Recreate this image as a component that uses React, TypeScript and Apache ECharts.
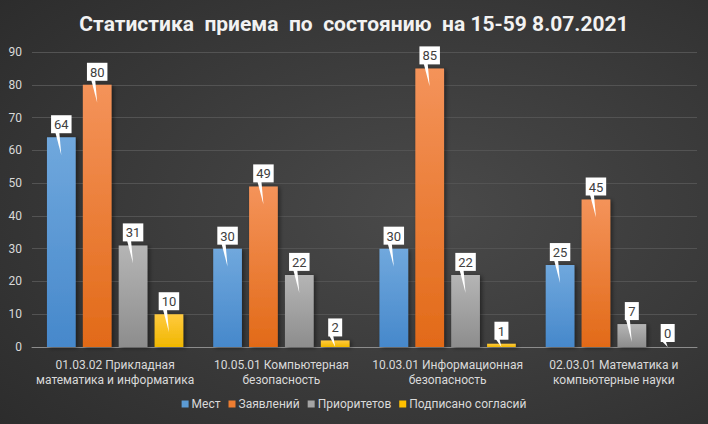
import React, { useEffect, useRef } from "react";
import * as echarts from "echarts";

const categories = [
  "01.03.02 Прикладная\nматематика и информатика",
  "10.05.01 Компьютерная\nбезопасность",
  "10.03.01 Информационная\nбезопасность",
  "02.03.01 Математика и\nкомпьютерные науки",
];
const seriesNames = ["Мест", "Заявлений", "Приоритетов", "Подписано согласий"];
const mest = [64, 30, 30, 25];
const zayavleniy = [80, 49, 85, 45];
const prioritetov = [31, 22, 22, 7];
const soglasiy = [10, 2, 1, 0];
const yTicks = [0, 10, 20, 30, 40, 50, 60, 70, 80, 90];

const FONT = "Roboto, 'Noto Sans', sans-serif";
const CAT_GAP = 0.18;
const BAR_GAP = 0.25;

const gradients = [
  ["#70a8dd", "#4688cb"],
  ["#f4935a", "#e26a18"],
  ["#b5b5b5", "#8d8d8d"],
  ["#ffca3f", "#f0b700"],
];
const legendColors = ["#5b9bd5", "#ed7d31", "#a5a5a5", "#ffc000"];

export default function App() {
  const ref = useRef<HTMLDivElement>(null);
  useEffect(() => {
    document.body.style.margin = "0";
    const chart = echarts.init(ref.current!, undefined, { renderer: "svg" });
    const all = [mest, zayavleniy, prioritetov, soglasiy];
    const n = all.length;

    const barSeries = all.map((vals, si) => ({
      type: "bar",
      name: seriesNames[si],
      data: vals,
      barCategoryGap: (CAT_GAP * 100).toFixed(0) + "%",
      barGap: (BAR_GAP * 100).toFixed(0) + "%",
      itemStyle: {
        color: {
          type: "linear",
          x: 0,
          y: 0,
          x2: 0,
          y2: 1,
          colorStops: [
            { offset: 0, color: gradients[si][0] },
            { offset: 1, color: gradients[si][1] },
          ],
        },
        shadowColor: "rgba(0,0,0,0.45)",
        shadowBlur: 4,
        shadowOffsetX: 2,
        shadowOffsetY: 1,
      },
      z: 2,
    }));

    const labelSeries = all.map((vals, si) => ({
      type: "custom",
      name: "lbl" + si,
      data: vals.map((v, i) => [i, v]),
      encode: { x: 0, y: 1 },
      z: 5,
      silent: true,
      renderItem: (params: any, api: any) => {
        const ci = api.value(0);
        const v = api.value(1);
        const pt = api.coord([ci, v]);
        const zero = api.coord([ci, 0]);
        const bandW = api.size([1, 0])[0];
        const usable = bandW * (1 - CAT_GAP);
        const bw = usable / (n + (n - 1) * BAR_GAP);
        const cx = pt[0] - usable / 2 + si * bw * (1 + BAR_GAP) + bw / 2;
        const ty = pt[1];
        const txt = String(v);
        const w = 6.5 * txt.length + 7.5;
        const h = 18;
        const boxBottom = Math.min(ty - 4, zero[1] - 5);
        const boxTop = boxBottom - h;
        const tipY = Math.min(ty + 18, zero[1]);
        return {
          type: "group",
          children: [
            {
              type: "polygon",
              shape: {
                points: [
                  [cx - 6, boxBottom - 1],
                  [cx - 2, boxBottom - 1],
                  [cx, tipY],
                ],
              },
              style: { fill: "#ffffff" },
            },
            {
              type: "rect",
              shape: { x: cx - w / 2, y: boxTop, width: w, height: h },
              style: { fill: "#ffffff" },
            },
            {
              type: "text",
              x: cx,
              y: boxTop + h / 2 + 0.5,
              style: {
                text: txt,
                fill: "#404040",
                font: "13px " + FONT,
                align: "center",
                verticalAlign: "middle",
              },
            },
          ],
        };
      },
    }));

    chart.setOption({
      animation: false,
      backgroundColor: {
        type: "radial",
        x: 0.6,
        y: 0.5,
        r: 1.0,
        colorStops: [
          { offset: 0, color: "#4a4a4a" },
          { offset: 1, color: "#242424" },
        ],
      },
      title: {
        text: "Статистика  приема  по  состоянию  на 15-59 8.07.2021",
        left: "center",
        top: 8,
        textStyle: {
          color: "#f2f2f2",
          fontSize: 21,
          fontWeight: "bold",
          fontFamily: FONT,
        },
      },
      legend: {
        data: seriesNames.map((nm, i) => ({ name: nm, itemStyle: { color: legendColors[i] } })),
        bottom: 9,
        left: "center",
        icon: "rect",
        itemWidth: 7,
        itemHeight: 7,
        itemGap: 8,
        textStyle: { color: "#d9d9d9", fontSize: 12, fontFamily: FONT, padding: [0, 0, 0, -2] },
      },
      grid: { left: 32, right: 11, top: 52, bottom: 77, containLabel: false },
      xAxis: {
        type: "category",
        data: categories,
        axisLine: { lineStyle: { color: "#8c8c8c", width: 1 } },
        axisTick: { show: false },
        axisLabel: {
          color: "#d9d9d9",
          fontSize: 12,
          fontFamily: FONT,
          lineHeight: 15,
          margin: 10,
          interval: 0,
        },
      },
      yAxis: {
        type: "value",
        min: yTicks[0],
        max: yTicks[yTicks.length - 1],
        interval: 10,
        axisLine: { show: false },
        axisTick: { show: false },
        splitLine: { lineStyle: { color: "#535353", width: 1 } },
        axisLabel: { color: "#d9d9d9", fontSize: 12, fontFamily: FONT, margin: 10 },
      },
      series: [...barSeries, ...labelSeries],
    });
    return () => chart.dispose();
  }, []);
  return <div ref={ref} style={{ width: 708, height: 424 }} />;
}
